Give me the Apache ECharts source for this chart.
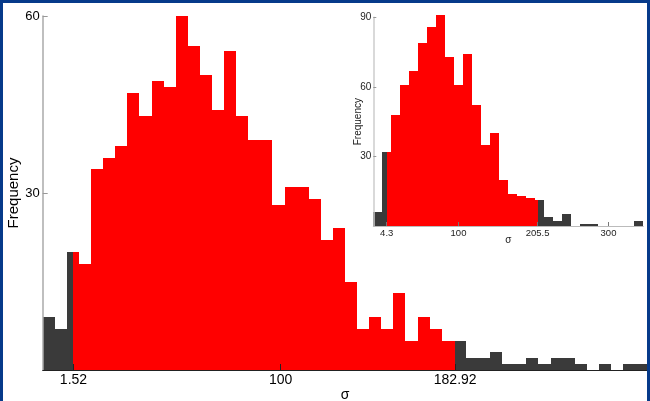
<!DOCTYPE html>
<html>
<head>
<meta charset="utf-8">
<script src="https://cdn.jsdelivr.net/npm/echarts@6/dist/echarts.min.js"></script>
<style>
  html, body { margin: 0; padding: 0; background: #fff; }
  #chart { position: absolute; left: 0; top: 0; width: 650px; height: 401px; }
  #frame {
    position: absolute; left: 0; top: 0; width: 650px; height: 401px;
    box-sizing: border-box; pointer-events: none;
    border-top: 3px solid #063a8a; border-left: 3px solid #063a8a; border-right: 3px solid #063a8a;
  }
</style>
</head>
<body>
<div id="chart"></div>
<div id="frame"></div>
<script>
  // Main histogram: 50 equal bins, red inside [mainLow, mainHigh]
  const mainCounts = [9, 7, 20, 18, 34, 36, 38, 47, 43, 49, 48, 60, 55, 50, 44, 54, 43, 39, 39, 28,
    31, 31, 29, 22, 24, 15, 7, 9, 7, 13, 5, 9, 7, 5, 5, 2, 2, 3, 1, 1,
    2, 1, 2, 2, 1, 0, 1, 0, 1, 1];
  const mainBinStart = -13.1;
  const mainBinWidth = 5.746;
  const mainLow = 1.52;
  const mainHigh = 182.92;
  const mainTicks = [1.52, 100, 182.92];
  const mainYTicks = [30, 60];

  // Inset histogram: 30 equal bins, red inside [insetLow, insetHigh]
  const insetCounts = [6, 32, 48, 61, 67, 79, 86, 91, 73, 61, 74, 52, 35, 40, 20, 14, 13, 12, 11, 4,
    2, 5, 0, 1, 1, 0, 0, 0, 0, 2];
  const insetBinStart = -13.6;
  const insetBinWidth = 12;
  const insetLow = 4.3;
  const insetHigh = 205.5;
  const insetTicks = [4.3, 100, 205.5, 300];
  const insetYTicks = [30, 60, 90];

  const FONT = '"Liberation Sans", Arial, Helvetica, sans-serif';
  const RED = '#ff0000';
  const DARK = '#3a3a3a';

  function binData(counts, start, width) {
    return counts.map((c, i) => [start + i * width, start + (i + 1) * width, c]);
  }

  function binRenderer(color, lo, hi) {
    return function (params, api) {
      let x0 = api.value(0);
      let x1 = api.value(1);
      const h = api.value(2);
      if (lo != null) {
        x0 = Math.max(x0, lo);
        x1 = Math.min(x1, hi);
      }
      if (x1 <= x0 || h <= 0) {
        return null;
      }
      const p0 = api.coord([x0, h]);
      const p1 = api.coord([x1, 0]);
      // snap to whole pixels so neighbouring bins meet without seams
      const left = Math.round(p0[0]);
      const right = Math.round(p1[0]);
      const top = Math.round(p0[1]);
      const bottom = Math.round(p1[1]);
      return {
        type: 'rect',
        shape: { x: left, y: top, width: right - left, height: bottom - top },
        style: { fill: color }
      };
    };
  }

  const chart = echarts.init(document.getElementById('chart'), null, { renderer: 'canvas' });

  const mainMax = mainBinStart + mainCounts.length * mainBinWidth;
  const insetMax = insetBinStart + insetCounts.length * insetBinWidth;

  chart.setOption({
    animation: false,
    backgroundColor: '#fff',
    grid: [
      { left: 42.7, right: 2.7, top: 16, bottom: 31, outerBoundsMode: 'none', containLabel: false },
      { left: 373.3, right: 6.7, top: 17.3, bottom: 175, outerBoundsMode: 'none', containLabel: false }
    ],
    xAxis: [
      {
        gridIndex: 0, type: 'value', min: mainBinStart, max: mainMax, z: 10,
        axisLine: { onZero: false, lineStyle: { color: '#222', width: 1 } },
        axisTick: { inside: true, length: 6, customValues: mainTicks, lineStyle: { color: '#222' } },
        axisLabel: { customValues: mainTicks, formatter: (v) => String(v), color: '#000', fontSize: 14, margin: 3, fontFamily: FONT },
        splitLine: { show: false },
        name: 'σ', nameLocation: 'middle', nameGap: 18, nameMoveOverlap: false,
        nameTextStyle: { color: '#000', fontSize: 14, fontFamily: FONT }
      },
      {
        gridIndex: 1, type: 'value', min: insetBinStart, max: insetMax, z: 10,
        axisLine: { onZero: false, lineStyle: { color: '#bbb', width: 1 } },
        axisTick: { inside: true, length: 4, customValues: insetTicks, lineStyle: { color: '#777' } },
        axisLabel: { customValues: insetTicks, formatter: (v) => String(v), color: '#222', fontSize: 9.5, margin: 2, fontFamily: FONT },
        splitLine: { show: false },
        name: 'σ', nameLocation: 'middle', nameGap: 9, nameMoveOverlap: false,
        nameTextStyle: { color: '#222', fontSize: 10, fontFamily: FONT }
      }
    ],
    yAxis: [
      {
        gridIndex: 0, type: 'value', min: 0, max: 60, interval: 30, z: 10,
        axisLine: { show: true, onZero: false, lineStyle: { color: '#aaa', width: 1.5 } },
        axisTick: { show: true, inside: true, length: 5, customValues: mainYTicks, lineStyle: { color: '#999' } },
        axisLabel: { customValues: mainYTicks, color: '#000', fontSize: 13, margin: 3, fontFamily: FONT },
        splitLine: { show: false },
        name: 'Frequency', nameLocation: 'middle', nameGap: 21, nameMoveOverlap: false,
        nameTextStyle: { color: '#000', fontSize: 15, fontFamily: FONT }
      },
      {
        gridIndex: 1, type: 'value', min: 0, max: 90, interval: 30, z: 10,
        axisLine: { show: true, onZero: false, lineStyle: { color: '#ccc', width: 1.5 } },
        axisTick: { show: true, inside: true, length: 3, customValues: insetYTicks, lineStyle: { color: '#999' } },
        axisLabel: { customValues: insetYTicks, color: '#222', fontSize: 10, margin: 2, fontFamily: FONT },
        splitLine: { show: false },
        name: 'Frequency', nameLocation: 'middle', nameGap: 10, nameMoveOverlap: false,
        nameTextStyle: { color: '#222', fontSize: 10, fontFamily: FONT }
      }
    ],
    series: [
      {
        type: 'custom', xAxisIndex: 0, yAxisIndex: 0, z: 2,
        renderItem: binRenderer(DARK, null, null),
        encode: { x: [0, 1], y: 2 },
        data: binData(mainCounts, mainBinStart, mainBinWidth)
      },
      {
        type: 'custom', xAxisIndex: 0, yAxisIndex: 0, z: 3,
        renderItem: binRenderer(RED, mainLow, mainHigh),
        encode: { x: [0, 1], y: 2 },
        data: binData(mainCounts, mainBinStart, mainBinWidth)
      },
      {
        type: 'custom', xAxisIndex: 1, yAxisIndex: 1, z: 2,
        renderItem: binRenderer(DARK, null, null),
        encode: { x: [0, 1], y: 2 },
        data: binData(insetCounts, insetBinStart, insetBinWidth)
      },
      {
        type: 'custom', xAxisIndex: 1, yAxisIndex: 1, z: 3,
        renderItem: binRenderer(RED, insetLow, insetHigh),
        encode: { x: [0, 1], y: 2 },
        data: binData(insetCounts, insetBinStart, insetBinWidth)
      }
    ]
  });
</script>
</body>
</html>
